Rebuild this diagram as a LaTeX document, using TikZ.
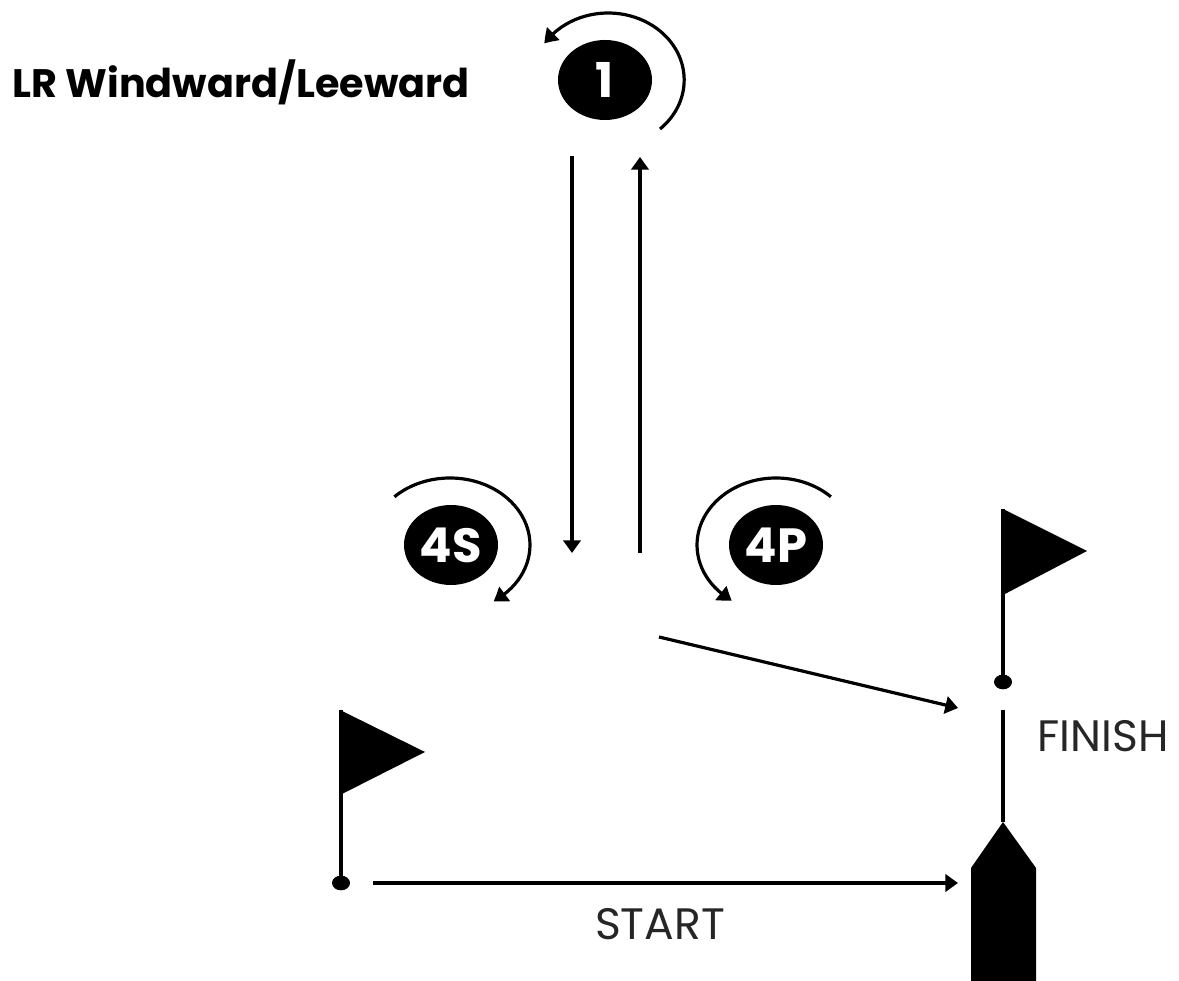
\documentclass[tikz,border=0pt]{standalone}
\usepackage{fontspec}
\setmainfont{Poppins}
\usetikzlibrary{shapes.geometric,arrows.meta,bending}
\tikzset{
  badge/.style={ellipse,fill=black,text=white,inner sep=0pt,minimum width=70.5pt,minimum height=60pt,font=\fontsize{36}{36}\selectfont\bfseries},
  pin/.style={ellipse,fill=black,inner sep=0pt,minimum width=13.5pt,minimum height=11pt},
  plainline/.style={line width=2.4pt,draw=black},
  arrowline/.style={line width=2.4pt,draw=black,-{Triangle[length=9.5pt,width=13pt]}},
  arcline/.style={line width=2.4pt,draw=black,-{Triangle[length=10pt,width=13pt,bend]}},
  lbl/.style={font=\fontsize{33}{33}\selectfont,text=black!85,inner sep=0pt},
  solidshape/.style={fill=black,draw=none}
}
\begin{document}
\begin{tikzpicture}[x=.75pt,y=.75pt]
\useasboundingbox (0,0) rectangle (1179,981);
\fill[white] (0,0) rectangle (1179,981);
\node[anchor=west,inner sep=0pt,font=\fontsize{29.8}{29.8}\selectfont\bfseries] (title) at (12,899) {LR Windward/Leeward};
\node[badge] (one) at (605,901) {1};
\node[badge] (fours) at (451,436) {4S};
\node[badge] (fourp) at (776,436) {4P};
% turn arcs
\coordinate (arcone) at (660,852);
\coordinate (arcfours) at (394.4,484.2);
\coordinate (arcfourp) at (830.9,484.2);
\draw[arcline] (arcone) arc[start angle=-47,end angle=147,x radius=57pt,y radius=50.25pt];
\draw[arcline] (arcfours) arc[start angle=134,end angle=-57,x radius=60pt,y radius=50.25pt];
\draw[arcline] (arcfourp) arc[start angle=46,end angle=236,x radius=59.25pt,y radius=50.25pt];
% course legs
\coordinate (downtop) at (572,825);
\coordinate (downend) at (572,428);
\coordinate (upstart) at (640,428);
\coordinate (upend) at (640,824);
\coordinate (finstart) at (659,344);
\coordinate (finend) at (958,273);
\coordinate (ststart) at (373,98);
\coordinate (stend) at (958,98);
\draw[arrowline] (downtop) -- (downend);
\draw[arrowline] (upstart) -- (upend);
\draw[arrowline] (finstart) -- (finend);
\draw[arrowline] (ststart) -- (stend);
% left flag
\node[pin] (leftpin) at (341,98) {};
\coordinate (lefttop) at (341,271);
\draw[plainline] (leftpin.center) -- (lefttop);
\fill[solidshape] (340,271) -- (425,229) -- (340,186) -- cycle;
% right flag
\node[pin] (rightpin) at (1003,299) {};
\coordinate (righttop) at (1003,472);
\draw[plainline] (rightpin.center) -- (righttop);
\fill[solidshape] (1003,472) -- (1087,430) -- (1003,386) -- cycle;
% boat and finish line
\coordinate (bow) at (1003,159);
\coordinate (fintop) at (1003,271);
\draw[plainline] (fintop) -- (bow);
\fill[solidshape] (bow) -- (1036,113) -- (1036,0) -- (971,0) -- (971,113) -- cycle;
\node[lbl] (start) at (660,57) {START};
\node[lbl] (finish) at (1103,245) {FINISH};
\end{tikzpicture}
\end{document}
